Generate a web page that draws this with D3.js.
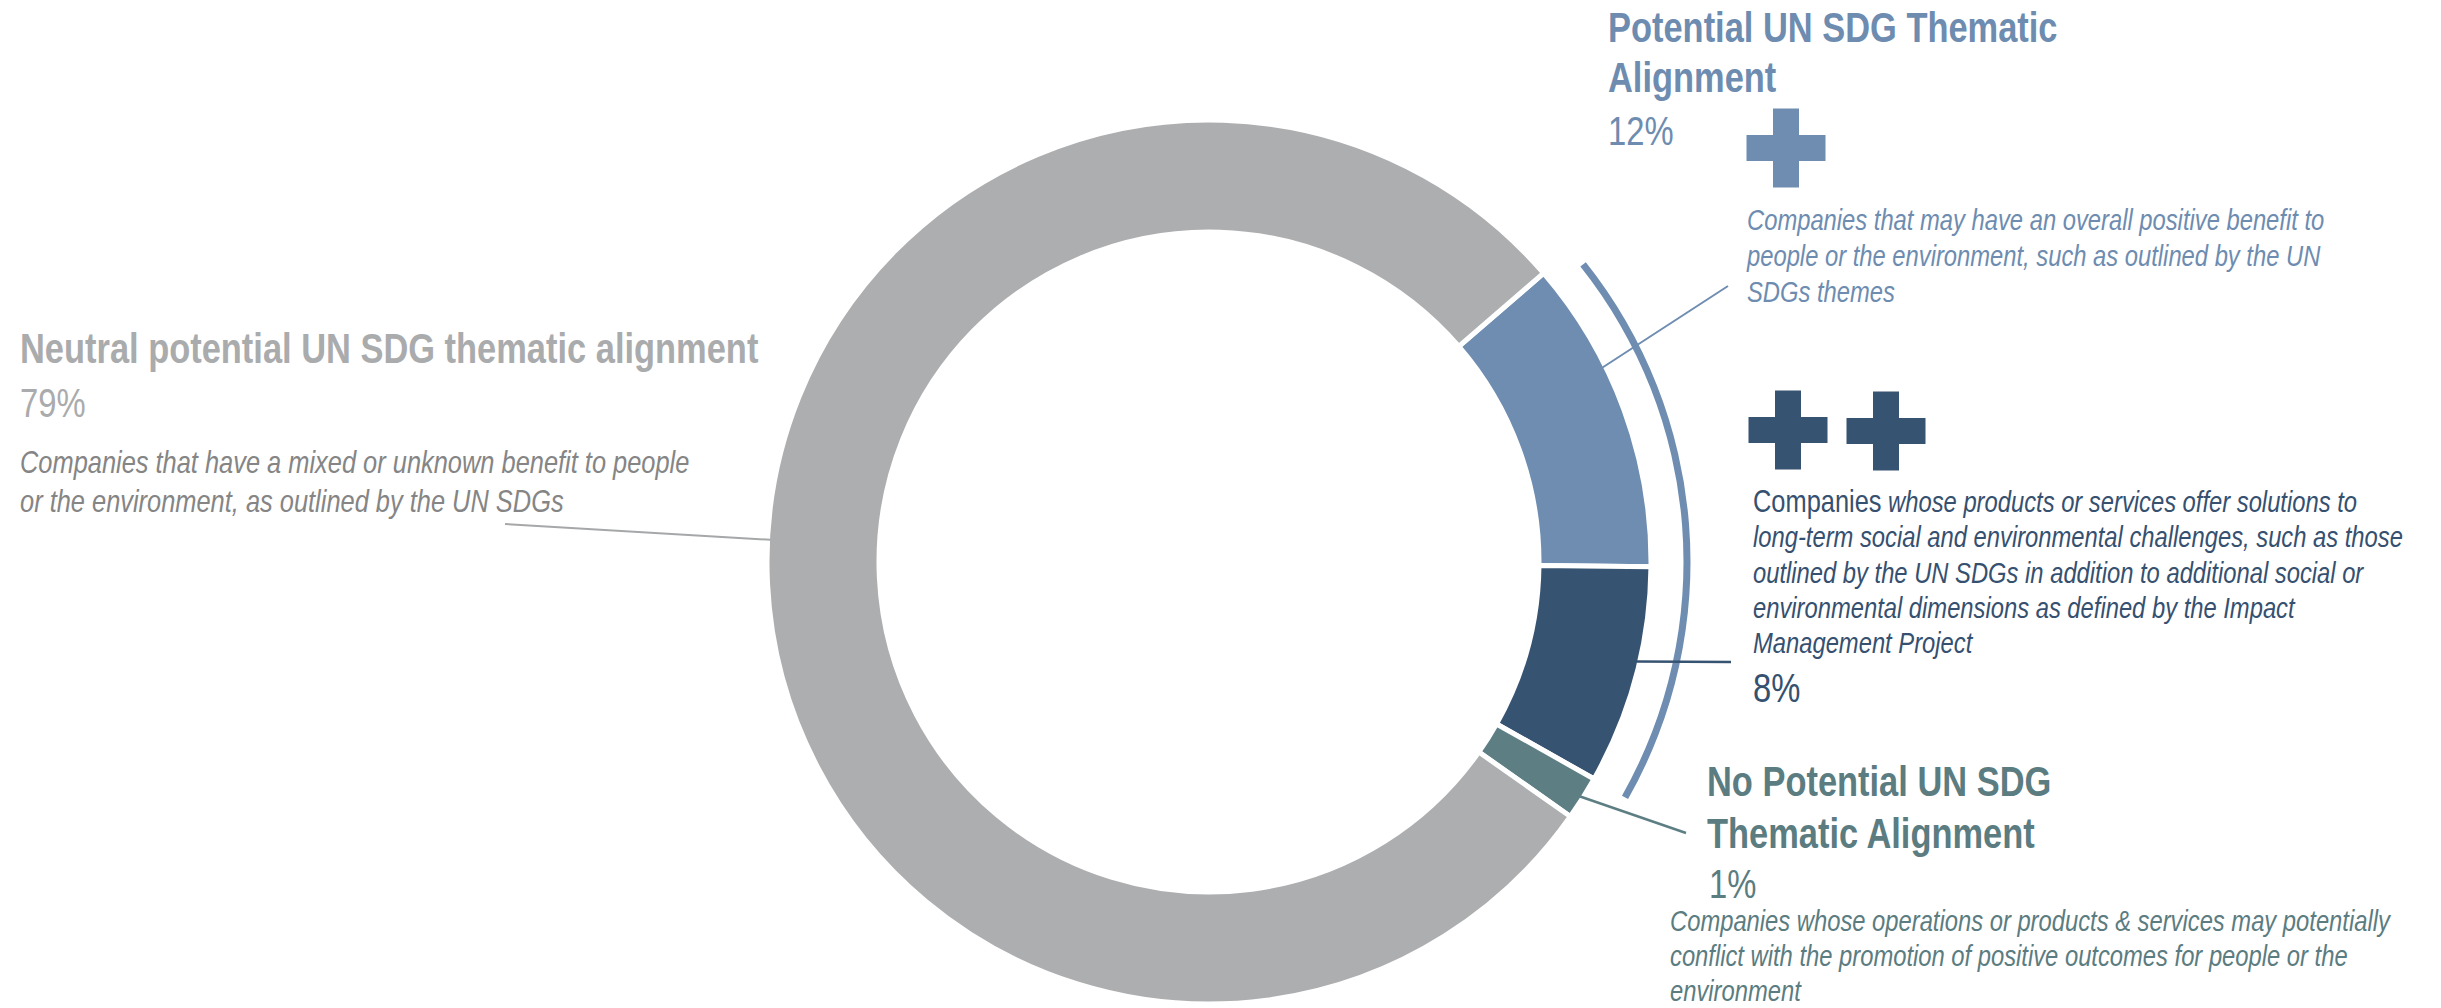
<!DOCTYPE html>
<html>
<head>
<meta charset="utf-8">
<script src="https://cdn.jsdelivr.net/npm/d3@7"></script>
<style>
  html, body { margin: 0; padding: 0; background: #fff; }
  svg { display: block; }
</style>
</head>
<body>
<svg id="chart" width="2441" height="1008"></svg>
<script>

// ---- data (clockwise, starting at the top edge of the light blue slice) ----
var keys = ["potential", "strong", "none", "neutral"];
var shares = [11.5, 8.0, 1.6, 78.9];          // arc sizes
var pctLabels = ["12%", "8%", "1%", "79%"];
var titleLines = [
    ["Potential UN SDG Thematic", "Alignment"],
    [],
    ["No Potential UN SDG", "Thematic Alignment"],
    ["Neutral potential UN SDG thematic alignment"]
];
var descLines = [
    ["Companies that may have an overall positive benefit to",
     "people or the environment, such as outlined by the UN",
     "SDGs themes"],
    ["Companies whose products or services offer solutions to",
     "long-term social and environmental challenges, such as those",
     "outlined by the UN SDGs in addition to additional social or",
     "environmental dimensions as defined by the Impact",
     "Management Project"],
    ["Companies whose operations or products & services may potentially",
     "conflict with the promotion of positive outcomes for people or the",
     "environment"],
    ["Companies that have a mixed or unknown benefit to people",
     "or the environment, as outlined by the UN SDGs"]
];
var plusCount = [1, 2, 0, 0];

// ---- styles / layout ----
var colors = { potential: "#6e8db1", strong: "#375372", none: "#5d7f84", neutral: "#adaeb0" };
var textColors = {
    potential: { title: "#6d8cb0", desc: "#6d8cb0" },
    strong:    { title: "#36506f", desc: "#36506f" },
    none:      { title: "#5b7c80", desc: "#5b7c80" },
    neutral:   { title: "#aaabad", desc: "#858585" }
};

var cx = 1209, cy = 562, rOuter = 442, rInner = 330;
var deg = Math.PI / 180;

var layout = {
    potential: { titleX: 1608, titleY: 42, titleLH: 50, pctX: 1608, pctY: 145,
                 descX: 1747, descY: 230, descLH: 36, descSize: 29,
                 plusX: 1786, plusY: 148, leadAngle: 63.7, leadEnd: [1728, 286], leadW: 2 },
    strong:    { pctX: 1753, pctY: 702,
                 descX: 1753, descY: 512, descLH: 35.3, descSize: 29,
                 plusX: 1788, plusY: 430, leadAngle: 103.1, leadEnd: [1731, 662], leadW: 2.5 },
    none:      { titleX: 1707, titleY: 796, titleLH: 52, pctX: 1709, pctY: 898,
                 descX: 1670, descY: 931, descLH: 35, descSize: 29,
                 leadAngle: null, leadEnd: [1686, 833], leadW: 2.5 },
    neutral:   { titleX: 20, titleY: 363, titleLH: 50, pctX: 20, pctY: 417,
                 descX: 20, descY: 473, descLH: 39, descSize: 31,
                 leadAngle: 272.9, leadEnd: [505, 524], leadW: 2 }
};

// narrow face if the machine has one, otherwise squeeze the regular face
function hasFont(name) {
    var c = document.createElement("canvas").getContext("2d");
    var s = "Companies whose products or services";
    c.font = "40px monospace";
    var a = c.measureText(s).width;
    c.font = "40px '" + name + "', monospace";
    return c.measureText(s).width !== a;
}
var narrow = hasFont("Liberation Sans Narrow");
var FONT = narrow ? "'Liberation Sans Narrow', 'Arial Narrow', sans-serif" : "'Liberation Sans', Arial, sans-serif";
var SX = narrow ? 1 : 0.82;

var svg = d3.select("#chart");

// ---- ring ----
var pie = d3.pie()
    .sort(null)
    .value(function(d) { return d; })
    .startAngle(49.2 * deg)
    .endAngle(49.2 * deg + 2 * Math.PI);

var arcs = pie(shares);

var arc = d3.arc()
    .innerRadius(rInner)
    .outerRadius(rOuter);

var ring = svg.append("g")
    .attr("transform", "translate(" + cx + "," + cy + ")");

ring.selectAll("path.slice")
    .data(arcs)
    .enter()
    .append("path")
    .attr("class", "slice")
    .attr("d", arc)
    .style("fill", function(d, i) { return colors[keys[i]]; })
    .style("stroke", "#fff")
    .style("stroke-width", 5);

// bracket around the two positive slices
ring.append("path")
    .datum({ startAngle: 51.5 * deg, endAngle: 119.5 * deg })
    .attr("d", d3.arc().innerRadius(474.5).outerRadius(481.5))
    .style("fill", colors.potential);

// ---- leader lines ----
function onRing(angleDeg, r) {
    var a = angleDeg * deg;
    return [cx + r * Math.sin(a), cy - r * Math.cos(a)];
}

keys.forEach(function(k, i) {
    var L = layout[k];
    var ang = L.leadAngle;
    if (ang == null) ang = (arcs[i].startAngle + arcs[i].endAngle) / 2 / deg;
    var p0 = onRing(ang, rOuter - 3);
    svg.append("line")
        .attr("x1", p0[0]).attr("y1", p0[1])
        .attr("x2", L.leadEnd[0]).attr("y2", L.leadEnd[1])
        .style("stroke", k == "neutral" ? "#a6a7a9" : colors[k])
        .style("stroke-width", L.leadW);
});

// ---- text blocks ----
function addText(x, y, str, size, weight, style, color) {
    return svg.append("text")
        .attr("transform", "translate(" + x + "," + y + ") scale(" + SX + ",1)")
        .style("font-family", FONT)
        .style("font-size", size + "px")
        .style("font-weight", weight)
        .style("font-style", style)
        .style("fill", color)
        .text(str);
}

keys.forEach(function(k, i) {
    var L = layout[k], c = textColors[k];

    titleLines[i].forEach(function(t, j) {
        addText(L.titleX, L.titleY + j * L.titleLH, t, 42, "bold", "normal", c.title);
    });

    addText(L.pctX, L.pctY, pctLabels[i], 40, "normal", "normal", c.title);

    descLines[i].forEach(function(t, j) {
        var y = L.descY + j * L.descLH;
        if (k == "strong" && j == 0) {
            // first word set upright and a touch larger in the original
            var words = t.split(" ");
            var el = addText(L.descX, y, "", L.descSize, "normal", "italic", c.desc);
            el.append("tspan").style("font-style", "normal").style("font-size", (L.descSize + 2) + "px").text(words[0]);
            el.append("tspan").text(" " + words.slice(1).join(" "));
        } else {
            addText(L.descX, y, t, L.descSize, "normal", "italic", c.desc);
        }
    });

    // plus signs
    var size = 79, bar = 26;
    for (var n = 0; n < plusCount[i]; n++) {
        var px = L.plusX + n * 98, py = L.plusY + n;
        svg.append("rect")
            .attr("x", px - bar / 2).attr("y", py - size / 2)
            .attr("width", bar).attr("height", size)
            .style("fill", colors[k]);
        svg.append("rect")
            .attr("x", px - size / 2).attr("y", py - bar / 2)
            .attr("width", size).attr("height", bar)
            .style("fill", colors[k]);
    }
});

</script>
</body>
</html>
